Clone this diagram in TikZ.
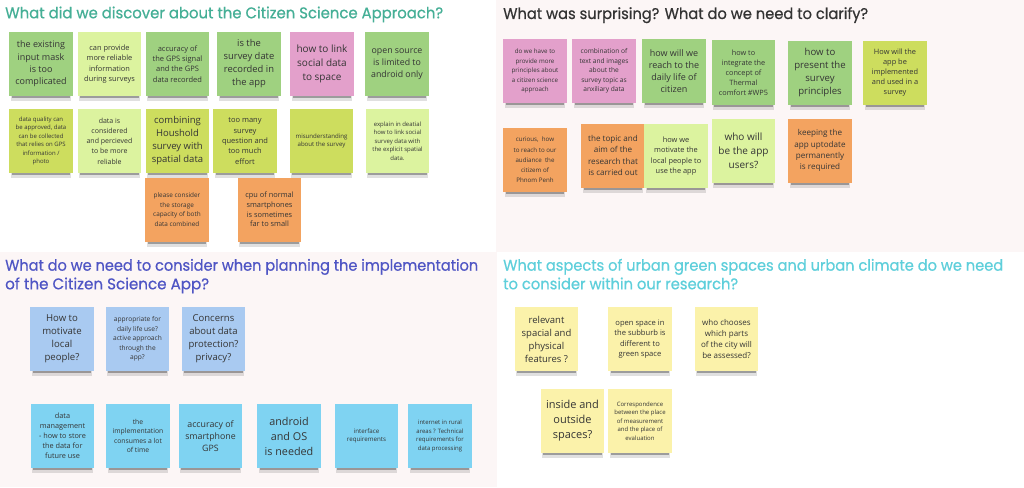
\documentclass[tikz,border=0pt]{standalone}
\usepackage{fontspec}
\usepackage{graphicx}
\usetikzlibrary{shadows}
\newfontfamily\stickyfont{Open Sans}
\newfontfamily\titlefont[FakeBold=0.6]{Poppins}
\definecolor{dgreen}{HTML}{9FD180}
\definecolor{lgreen}{HTML}{DCF39F}
\definecolor{ygreen}{HTML}{CDDD5E}
\definecolor{pinkst}{HTML}{E3A0CB}
\definecolor{orangest}{HTML}{F3A360}
\definecolor{lblue}{HTML}{A9CAF1}
\definecolor{cyanst}{HTML}{7FD3F2}
\definecolor{lyellow}{HTML}{FBF2AA}
\definecolor{txt}{HTML}{353535}
\definecolor{panelbg}{HTML}{FCF6F6}
\definecolor{tteal}{HTML}{45AF96}
\definecolor{tdark}{HTML}{333333}
\definecolor{tblue}{HTML}{4F55C4}
\definecolor{tcyan}{HTML}{5ECFDB}
\tikzset{
  sticky/.style={minimum width=63.5pt, minimum height=64pt, inner sep=0pt,
    align=center, text=txt,
    drop shadow={shadow xshift=0pt, shadow yshift=-7pt, opacity=0.12, fill=black, shadow scale=0.96},
    drop shadow={shadow xshift=0pt, shadow yshift=-5pt, opacity=0.30, fill=black, shadow scale=0.92}},
  fs/.style 2 args={font=\stickyfont\fontsize{#1}{#2}\selectfont},
  c-dg/.style={fill=dgreen}, c-lg/.style={fill=lgreen}, c-yg/.style={fill=ygreen},
  c-pk/.style={fill=pinkst}, c-or/.style={fill=orangest}, c-lb/.style={fill=lblue},
  c-cy/.style={fill=cyanst}, c-ly/.style={fill=lyellow},
  title/.style={anchor=base west, inner sep=0pt, font=\titlefont\fontsize{15.5}{18}\selectfont}
}
\begin{document}
\begin{tikzpicture}[x=1pt, y=-1pt]
\useasboundingbox (0,0) rectangle (1024,487);
\fill[white] (0,0) rectangle (1024,487);
\fill[panelbg] (496,0) rectangle (1024,252);
\fill[panelbg] (0,252) rectangle (497,487);

% ---------- Q1 ----------
\node[title, text=tteal] (q1t) at (5,18.3) {\resizebox{438pt}{\height}{What did we discover about the Citizen Science Approach?}};
\node[sticky, c-dg, fs={9}{12.3}] (s1) at (41,64) {the existing\\input mask\\is too\\complicated};
\node[sticky, c-lg, fs={7.4}{10.3}] (s2) at (109.5,64) {can provide\\more reliable\\information\\during surveys};
\node[sticky, c-dg, fs={7.5}{10.2}] (s3) at (177.5,64) {accuracy of\\the GPS signal\\and the GPS\\data recorded};
\node[sticky, c-dg, fs={9.4}{13}] (s4) at (249,64) {is the\\survey date\\recorded in\\the app};
\node[sticky, c-pk, fs={10}{14}] (s5) at (322,64) {how to link\\social data\\to space};
\node[sticky, c-dg, fs={8.8}{12}] (s6) at (397,64) {open source\\is limited to\\android only};
\node[sticky, c-yg, fs={6}{8.5}] (s7) at (41,141) {data quality can\\be approved, data\\can be collected\\that relies on GPS\\information /\\photo};
\node[sticky, c-lg, fs={7}{10.3}] (s8) at (109.5,141) {data is\\considered\\and percieved\\to be more\\reliable};
\node[sticky, c-yg, fs={9.5}{13}] (s9) at (177.5,141) {combining\\Houshold\\survey with\\spatial data};
\node[sticky, c-yg, fs={7.5}{10.3}] (s10) at (245,141) {too many\\survey\\question and\\too much\\effort};
\node[sticky, c-yg, fs={6.1}{8.3}] (s11) at (321.5,141) {misunderstanding\\about the survey};
\node[sticky, c-lg, fs={6}{8.5}] (s12) at (397.5,141) {explain in deatial\\how to link social\\survey data with\\the explicit spatial\\data.};
\node[sticky, c-or, fs={6.4}{9.5}] (s13) at (177,209.5) {please consider\\the storage\\capacity of both\\data combined};
\node[sticky, c-or, fs={7.4}{9.8}] (s14) at (269.5,209.5) {cpu of normal\\smartphones\\is sometimes\\far to small};

% ---------- Q2 ----------
\node[title, text=tdark] (q2t) at (503,19) {\resizebox{365pt}{\height}{What was surprising? What do we need to clarify?}};
\node[sticky, c-pk, fs={6.2}{9.5}] (t1) at (535,71) {do we have to\\provide more\\principles about\\a citizen science\\approach};
\node[sticky, c-pk, fs={6.6}{9.5}] (t2) at (604,71) {combination of\\text and images\\about the\\survey topic as\\anxiliary data};
\node[sticky, c-dg, fs={9}{12.2}] (t3) at (674,71) {how will we\\reach to the\\daily life of\\citizen};
\node[sticky, c-dg, fs={7.3}{10}] (t4) at (743.5,72.5) {how to\\integrate the\\concept of\\Thermal\\comfort \#WP5};
\node[sticky, c-dg, fs={9.6}{13}] (t5) at (820,73) {how to\\present the\\survey\\principles};
\node[sticky, c-yg, fs={7.4}{10}] (t6) at (895,73) {How will the\\app be\\implemented\\and used in a\\survey};
\node[sticky, c-or, fs={6.2}{10.3}] (t7) at (535,160) {curious,~~how\\to reach to our\\audiance~~the\\citizem of\\Phnom Penh};
\node[sticky, c-or, fs={8.1}{11.3}] (t8) at (613,155.5) {the topic and\\aim of the\\research that\\is carried out};
\node[sticky, c-lg, fs={7.4}{10.3}] (t9) at (676,156) {how we\\motivate the\\local people to\\use the app};
\node[sticky, c-lg, fs={10}{13.9}] (t10) at (743.5,150.5) {who will\\be the app\\users?};
\node[sticky, c-or, fs={8.1}{11.2}] (t11) at (820,150.5) {keeping the\\app uptodate\\permanently\\is required};

% ---------- Q3 ----------
\node[title, text=tblue] (q3t1) at (5,270.7) {\resizebox{473pt}{\height}{What do we need to consider when planning the implementation}};
\node[title, text=tblue] (q3t2) at (5,289.3) {\resizebox{204pt}{\height}{of the Citizen Science App?}};
\node[sticky, c-lb, fs={9.6}{13}] (u1) at (62,339) {How to\\motivate\\local\\people?};
\node[sticky, c-lb, fs={6.6}{9.6}] (u2) at (137.5,339) {appropriate for\\daily life use?\\active approach\\through the\\app?};
\node[sticky, c-lb, fs={9.5}{13}] (u3) at (213.5,339) {Concerns\\about data\\protection?\\privacy?};
\node[sticky, c-cy, fs={7.3}{10.1}] (u4) at (62.5,436) {data\\management\\- how to store\\the data for\\future use};
\node[sticky, c-cy, fs={6.8}{9.4}] (u5) at (138,436) {the\\implementation\\consumes a lot\\of time};
\node[sticky, c-cy, fs={8.8}{12.3}] (u6) at (210.5,436) {accuracy of\\smartphone\\GPS};
\node[sticky, c-cy, fs={10.8}{15}] (u7) at (289,436) {android\\and OS\\is needed};
\node[sticky, c-cy, fs={6.2}{8.7}] (u8) at (366.5,436) {interface\\requirements};
\node[sticky, c-cy, fs={6}{8.5}] (u9) at (440,436) {internet in rural\\areas ? Technical\\requirements for\\data processing};

% ---------- Q4 ----------
\node[title, text=tcyan] (q4t1) at (503,270.7) {\resizebox{500pt}{\height}{What aspects of urban green spaces and urban climate do we need}};
\node[title, text=tcyan] (q4t2) at (503,289.3) {\resizebox{235pt}{\height}{to consider within our research?}};
\node[sticky, c-ly, fs={9.5}{13}] (v1) at (546.5,339) {relevant\\spacial and\\physical\\features ?};
\node[sticky, c-ly, fs={7.6}{10.3}] (v2) at (640,339) {open space in\\the subburb is\\different to\\green space};
\node[sticky, c-ly, fs={8}{11.3}] (v3) at (726.5,339) {who chooses\\which parts\\of the city will\\be assessed?};
\node[sticky, c-ly, fs={11}{15}] (v4) at (572.5,421) {inside and\\outside\\spaces?};
\node[sticky, c-ly, fs={6}{8.5}] (v5) at (640,421) {Correspondence\\between the place\\of measurement\\and the place of\\evaluation};
\end{tikzpicture}
\end{document}
